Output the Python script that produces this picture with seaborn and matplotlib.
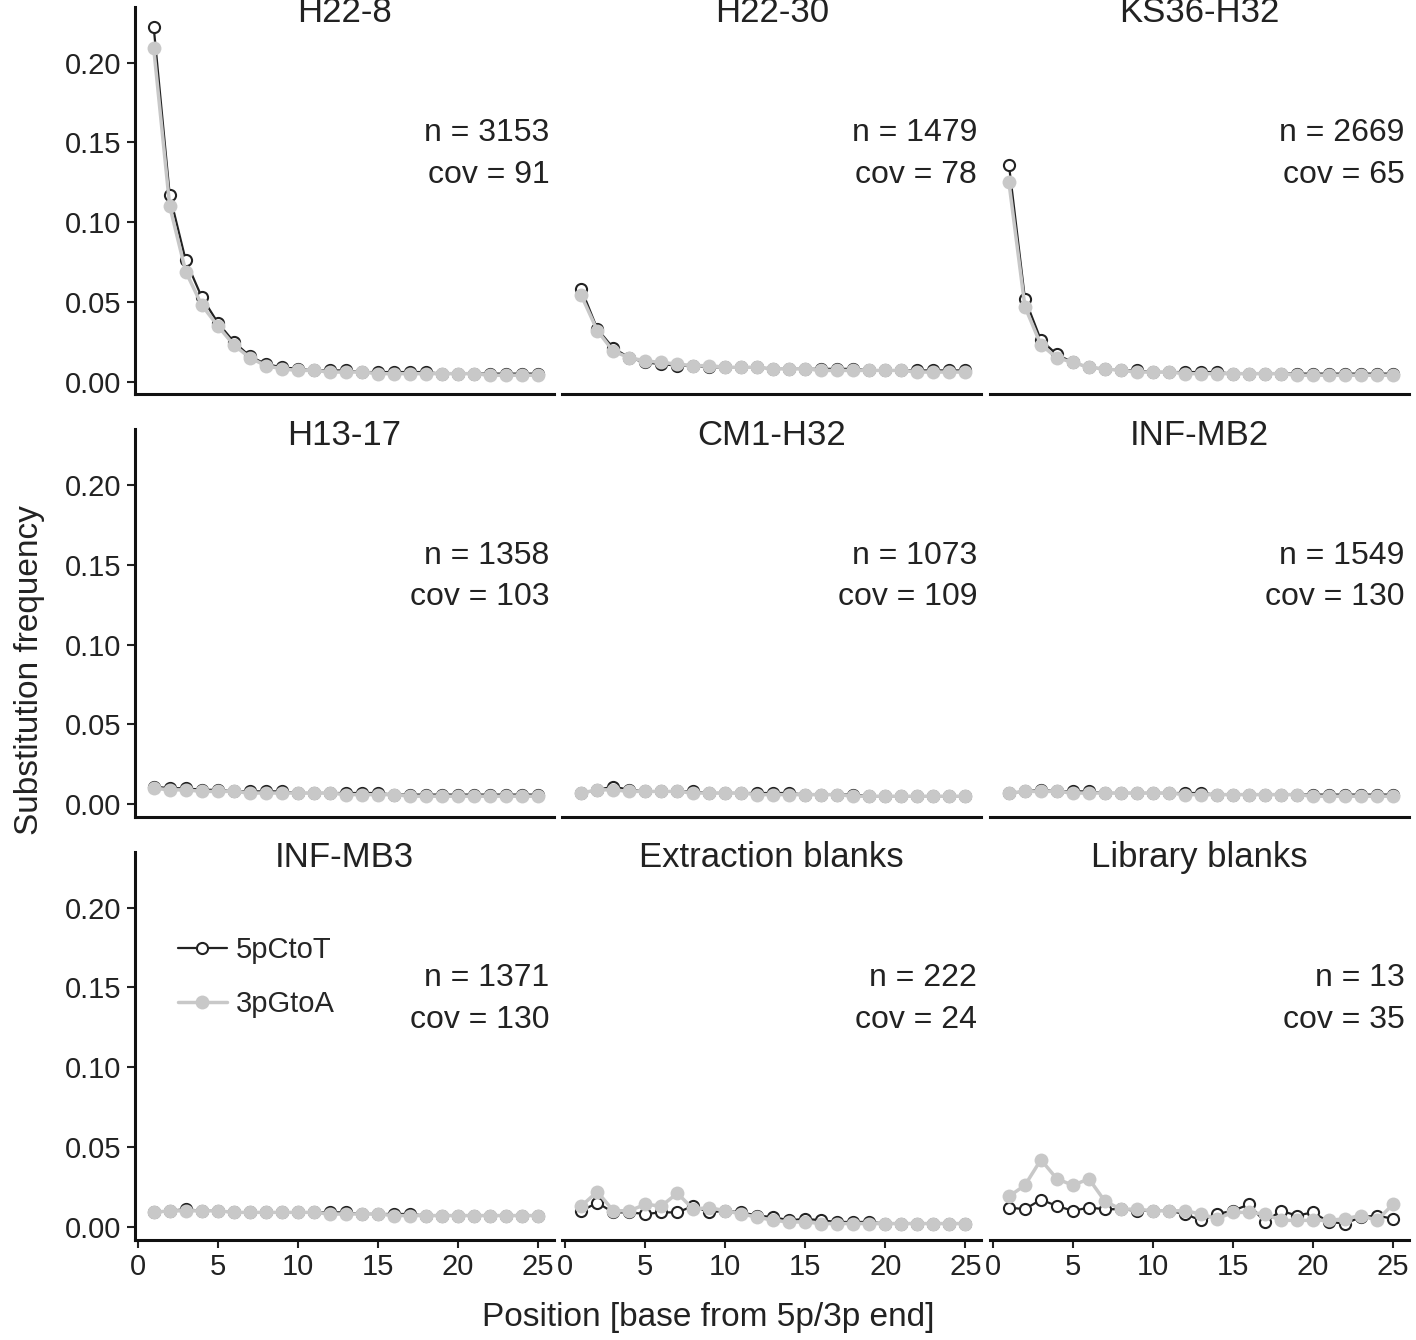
import numpy as np
import pandas as pd
import matplotlib.pyplot as plt
import seaborn as sns

sns.set_style("white")
plt.rcParams['font.family'] = 'Liberation Sans'

pos = list(range(1, 26))
samples = ['H22-8', 'H22-30', 'KS36-H32', 'H13-17', 'CM1-H32', 'INF-MB2',
           'INF-MB3', 'Extraction blanks', 'Library blanks']
n_reads = [3153, 1479, 2669, 1358, 1073, 1549, 1371, 222, 13]
cov = [91, 78, 65, 103, 109, 130, 130, 24, 35]

ct = {
    'H22-8': [0.222, 0.117, 0.076, 0.053, 0.037, 0.025, 0.016, 0.011, 0.009, 0.008, 0.007, 0.007, 0.007, 0.006, 0.006, 0.006, 0.006, 0.006, 0.005, 0.005, 0.005, 0.005, 0.005, 0.005, 0.005],
    'H22-30': [0.058, 0.033, 0.021, 0.015, 0.012, 0.011, 0.010, 0.010, 0.009, 0.009, 0.009, 0.009, 0.008, 0.008, 0.008, 0.008, 0.008, 0.008, 0.007, 0.007, 0.007, 0.007, 0.007, 0.007, 0.007],
    'KS36-H32': [0.136, 0.052, 0.026, 0.017, 0.012, 0.009, 0.008, 0.007, 0.007, 0.006, 0.006, 0.006, 0.006, 0.006, 0.005, 0.005, 0.005, 0.005, 0.005, 0.005, 0.005, 0.005, 0.005, 0.005, 0.005],
    'H13-17': [0.011, 0.010, 0.010, 0.009, 0.009, 0.008, 0.008, 0.008, 0.008, 0.007, 0.007, 0.007, 0.007, 0.007, 0.007, 0.006, 0.006, 0.006, 0.006, 0.006, 0.006, 0.006, 0.006, 0.006, 0.006],
    'CM1-H32': [0.007, 0.009, 0.011, 0.009, 0.008, 0.008, 0.008, 0.008, 0.007, 0.007, 0.007, 0.007, 0.007, 0.007, 0.006, 0.006, 0.006, 0.006, 0.005, 0.005, 0.005, 0.005, 0.005, 0.005, 0.005],
    'INF-MB2': [0.007, 0.008, 0.009, 0.008, 0.008, 0.008, 0.007, 0.007, 0.007, 0.007, 0.007, 0.007, 0.007, 0.006, 0.006, 0.006, 0.006, 0.006, 0.006, 0.006, 0.006, 0.006, 0.006, 0.006, 0.006],
    'INF-MB3': [0.009, 0.010, 0.011, 0.010, 0.010, 0.009, 0.009, 0.009, 0.009, 0.009, 0.009, 0.009, 0.009, 0.008, 0.008, 0.008, 0.008, 0.007, 0.007, 0.007, 0.007, 0.007, 0.007, 0.007, 0.007],
    'Extraction blanks': [0.010, 0.015, 0.009, 0.009, 0.008, 0.009, 0.009, 0.013, 0.009, 0.010, 0.009, 0.007, 0.006, 0.004, 0.005, 0.004, 0.003, 0.003, 0.003, 0.002, 0.002, 0.002, 0.002, 0.002, 0.002],
    'Library blanks': [0.012, 0.011, 0.017, 0.013, 0.010, 0.012, 0.011, 0.011, 0.010, 0.010, 0.010, 0.008, 0.004, 0.008, 0.010, 0.014, 0.003, 0.010, 0.007, 0.009, 0.003, 0.002, 0.006, 0.007, 0.005],
}
ga = {
    'H22-8': [0.209, 0.110, 0.069, 0.048, 0.035, 0.023, 0.015, 0.010, 0.008, 0.007, 0.007, 0.006, 0.006, 0.006, 0.005, 0.005, 0.005, 0.005, 0.005, 0.005, 0.005, 0.004, 0.004, 0.004, 0.004],
    'H22-30': [0.054, 0.032, 0.019, 0.015, 0.013, 0.012, 0.011, 0.010, 0.010, 0.009, 0.009, 0.009, 0.008, 0.008, 0.008, 0.007, 0.007, 0.007, 0.007, 0.007, 0.007, 0.006, 0.006, 0.006, 0.006],
    'KS36-H32': [0.125, 0.047, 0.023, 0.015, 0.012, 0.009, 0.008, 0.007, 0.006, 0.006, 0.006, 0.005, 0.005, 0.005, 0.005, 0.005, 0.005, 0.005, 0.004, 0.004, 0.004, 0.004, 0.004, 0.004, 0.004],
    'H13-17': [0.010, 0.009, 0.009, 0.008, 0.008, 0.008, 0.007, 0.007, 0.007, 0.007, 0.007, 0.007, 0.006, 0.006, 0.006, 0.006, 0.005, 0.005, 0.005, 0.005, 0.005, 0.005, 0.005, 0.005, 0.005],
    'CM1-H32': [0.007, 0.009, 0.009, 0.008, 0.008, 0.008, 0.008, 0.007, 0.007, 0.007, 0.007, 0.006, 0.006, 0.006, 0.006, 0.006, 0.006, 0.005, 0.005, 0.005, 0.005, 0.005, 0.005, 0.005, 0.005],
    'INF-MB2': [0.007, 0.008, 0.008, 0.008, 0.007, 0.007, 0.007, 0.007, 0.007, 0.007, 0.007, 0.006, 0.006, 0.006, 0.006, 0.006, 0.006, 0.006, 0.006, 0.005, 0.005, 0.005, 0.005, 0.005, 0.005],
    'INF-MB3': [0.009, 0.010, 0.010, 0.010, 0.010, 0.009, 0.009, 0.009, 0.009, 0.009, 0.009, 0.008, 0.008, 0.008, 0.008, 0.007, 0.007, 0.007, 0.007, 0.007, 0.007, 0.007, 0.007, 0.007, 0.007],
    'Extraction blanks': [0.013, 0.022, 0.010, 0.010, 0.014, 0.013, 0.021, 0.011, 0.012, 0.010, 0.008, 0.006, 0.004, 0.003, 0.003, 0.002, 0.002, 0.002, 0.002, 0.002, 0.002, 0.002, 0.002, 0.002, 0.002],
    'Library blanks': [0.019, 0.026, 0.042, 0.030, 0.026, 0.030, 0.016, 0.011, 0.011, 0.010, 0.010, 0.010, 0.008, 0.005, 0.009, 0.009, 0.008, 0.004, 0.004, 0.004, 0.004, 0.005, 0.007, 0.004, 0.014],
}

rows = []
for s in samples:
    for p, a, b in zip(pos, ct[s], ga[s]):
        rows.append((s, p, a, '5pCtoT'))
        rows.append((s, p, b, '3pGtoA'))
df = pd.DataFrame(rows, columns=['sample', 'pos', 'freq', 'type'])

fig, axes = plt.subplots(3, 3, figsize=(14.16, 13.4), dpi=100, sharex=True, sharey=True)
fig.subplots_adjust(left=0.095, right=0.995, top=0.995, bottom=0.075, wspace=0.02, hspace=0.09)

for i, s in enumerate(samples):
    ax = axes.flat[i]
    d = df[df['sample'] == s]
    sns.lineplot(data=d[d.type == '5pCtoT'], x='pos', y='freq', ax=ax, color='#222222',
                 lw=1.6, marker='o', markersize=8, markerfacecolor='white',
                 markeredgecolor='#222222', markeredgewidth=1.5, label='5pCtoT', zorder=2)
    sns.lineplot(data=d[d.type == '3pGtoA'], x='pos', y='freq', ax=ax, color='#c8c8c8',
                 lw=2.5, marker='o', markersize=10, markeredgewidth=0,
                 markeredgecolor='#c8c8c8', label='3pGtoA', zorder=3)
    ax.text(0.5, 0.985, s, transform=ax.transAxes, ha='center', va='center',
            fontsize=25, color='#222222')
    ax.text(0.99, 0.62, 'n = %d\ncov = %d' % (n_reads[i], cov[i]), transform=ax.transAxes,
            ha='right', va='center', fontsize=23, linespacing=1.5, color='#222222')
    ax.set_xlim(-0.2, 26)
    ax.set_ylim(-0.008, 0.235)
    ax.set_xticks([0, 5, 10, 15, 20, 25])
    ax.set_yticks([0, 0.05, 0.10, 0.15, 0.20])
    ax.set_yticklabels(['0.00', '0.05', '0.10', '0.15', '0.20'])
    ax.tick_params(labelsize=21, length=6, width=1.5, color='#222222', labelcolor='#222222',
                   left=(i % 3 == 0), bottom=(i >= 6))
    ax.set_xlabel('')
    ax.set_ylabel('')
    for sp in ['top', 'right']:
        ax.spines[sp].set_visible(False)
    ax.spines['left'].set_visible(i % 3 == 0)
    ax.spines['bottom'].set_linewidth(2.2)
    ax.spines['left'].set_linewidth(2.2)
    ax.spines['bottom'].set_color('#111111')
    ax.spines['left'].set_color('#111111')
    if i == 6:
        ax.legend(loc='upper left', bbox_to_anchor=(0.04, 0.85), frameon=False,
                  fontsize=21, handlelength=1.7, handletextpad=0.3, labelspacing=0.9)
    else:
        ax.get_legend().remove()

fig.supylabel('Substitution frequency', fontsize=24, x=0.01, color='#222222')
fig.supxlabel('Position [base from 5p/3p end]', fontsize=24, y=0.005, color='#222222')
fig.savefig('out.png', dpi=100)
